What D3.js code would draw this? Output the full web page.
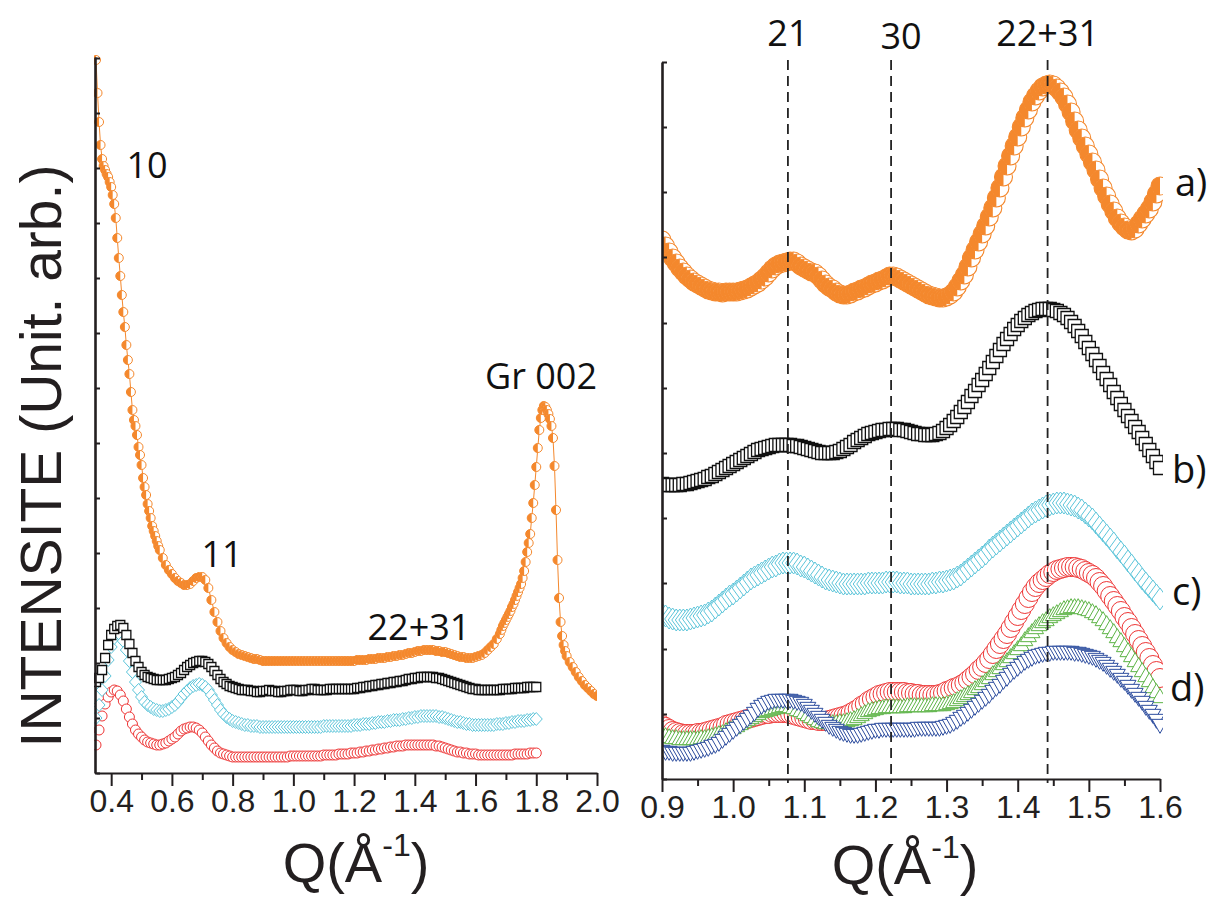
<!DOCTYPE html>
<html><head><meta charset="utf-8">
<script src="https://cdn.jsdelivr.net/npm/d3@7"></script>
<style>body{margin:0;background:#fff}svg{display:block}</style>
</head><body>
<svg id="chart" width="1221" height="900"></svg>
<script>
// ---------- DATA ----------
// Left panel: Q grid (Å^-1) and intensities (arb. units)
const qLeft = [
0.35,0.36,0.37,0.38,0.39,0.40,0.41,0.42,0.43,0.44,
0.45,0.46,0.47,0.48,0.49,0.50,0.51,0.52,0.53,0.54,
0.55,0.56,0.57,0.58,0.59,0.60,0.61,0.62,0.63,0.64,
0.65,0.66,0.67,0.68,0.69,0.70,0.71,0.72,0.73,0.74,
0.75,0.76,0.77,0.78,0.79,0.80,0.81,0.82,0.83,0.84,
0.85,0.86,0.87,0.88,0.89,0.90,0.91,0.92,0.93,0.94,
0.95,0.96,0.97,0.98,0.99,1.00,1.01,1.02,1.03,1.04,
1.05,1.06,1.07,1.08,1.09,1.10,1.11,1.12,1.13,1.14,
1.15,1.16,1.17,1.18,1.19,1.20,1.21,1.22,1.23,1.24,
1.25,1.26,1.27,1.28,1.29,1.30,1.31,1.32,1.33,1.34,
1.35,1.36,1.37,1.38,1.39,1.40,1.41,1.42,1.43,1.44,
1.45,1.46,1.47,1.48,1.49,1.50,1.51,1.52,1.53,1.54,
1.55,1.56,1.57,1.58,1.59,1.60,1.61,1.62,1.63,1.64,
1.65,1.66,1.67,1.68,1.69,1.70,1.71,1.72,1.73,1.74,
1.75,1.76,1.77,1.78,1.79,1.80];

const leftBlack = [
91,95,103,115,128,138,144,147,148,145,
138,129,120,112,106,101,98,96,95,94,
93,93,93,93,94,95,96,98,100,103,
106,108,110,111,112,112,111,109,106,102,
98,94,91,89,87,86,85,84,83,83,
83,82,82,81,81,82,82,83,82,82,
81,81,82,82,83,83,83,82,82,83,
83,84,84,83,83,83,83,84,84,84,
84,84,84,84,84,84,85,85,86,86,
87,87,88,88,89,89,90,90,91,91,
92,92,93,94,94,95,95,96,96,96,
96,96,95,95,94,93,92,91,90,89,
88,87,86,85,84,84,83,83,83,83,
83,83,83,83,84,84,84,84,85,85,
85,85,86,86,86,86];

const leftCyan = [
55,68,83,97,113,126,135,139,138,132,
123,112,101,91,83,76,71,68,66,64,
63,62,62,63,64,66,68,71,75,79,
82,85,87,88,89,88,86,83,78,73,
68,63,59,56,54,52,51,50,49,48,
48,47,47,47,46,46,46,46,46,46,
46,46,46,46,46,46,46,46,46,46,
46,46,46,46,46,47,47,47,47,47,
47,47,47,47,47,48,48,48,49,49,
49,50,50,51,51,51,52,52,53,53,
53,54,54,55,55,56,56,57,57,57,
57,57,57,56,56,55,54,53,52,51,
51,50,49,49,48,48,48,48,48,48,
48,48,49,49,49,50,50,51,51,52,
52,52,53,53,54,54];

const leftRed = [
28,43,57,69,76,81,83,82,78,72,
64,56,49,43,39,36,33,31,30,29,
28,28,29,30,32,34,36,39,42,44,
45,46,46,45,43,40,36,32,28,25,
22,20,19,18,17,16,16,16,16,16,
16,16,16,16,16,16,16,16,16,16,
16,16,16,16,17,17,17,17,17,17,
17,17,17,17,17,18,18,18,18,18,
19,19,19,19,20,20,20,21,21,22,
22,23,23,24,24,25,25,26,26,27,
27,27,28,28,28,28,28,28,28,28,
28,28,27,27,26,25,24,23,22,21,
21,20,20,19,19,19,18,18,18,18,
18,18,18,18,18,18,18,18,19,19,
19,19,19,20,20,20];

// Left panel orange sample (with Gr 002 peak), its own Q sampling
const qLeftOrange = [
0.350,0.355,0.360,0.365,0.370,0.375,0.380,0.385,0.390,0.395,
0.400,0.405,0.410,0.415,0.420,0.425,0.430,0.435,0.440,0.445,
0.450,0.455,0.460,0.465,0.470,0.475,0.480,0.485,0.490,0.495,
0.500,0.505,0.510,0.515,0.520,0.525,0.530,0.535,0.540,0.545,
0.550,0.555,0.560,
0.57,0.58,0.59,0.60,0.61,0.62,0.63,0.64,0.65,0.66,
0.67,0.68,0.69,0.70,0.71,0.72,0.73,0.74,0.75,0.76,
0.77,0.78,0.79,0.80,0.81,0.82,0.83,0.84,0.85,0.86,
0.87,0.88,0.89,0.90,0.91,0.92,0.93,0.94,0.95,0.96,
0.97,0.98,0.99,1.00,1.01,1.02,1.03,1.04,1.05,1.06,
1.07,1.08,1.09,1.10,1.11,1.12,1.13,1.14,1.15,1.16,
1.17,1.18,1.19,1.20,1.21,1.22,1.23,1.24,1.25,1.26,
1.27,1.28,1.29,1.30,1.31,1.32,1.33,1.34,1.35,1.36,
1.37,1.38,1.39,1.40,1.41,1.42,1.43,1.44,1.45,1.46,
1.47,1.48,1.49,1.50,1.51,1.52,1.53,1.54,1.55,1.56,
1.57,1.58,1.59,1.60,1.61,1.62,1.63,1.64,1.65,1.66,
1.67,1.68,
1.685,1.690,1.695,1.700,1.705,1.710,1.715,1.720,1.725,1.730,
1.735,1.740,1.745,1.750,1.755,1.760,1.765,1.770,1.775,1.780,
1.785,1.790,1.795,1.800,1.805,1.810,1.815,1.820,1.825,1.830,
1.835,1.840,1.845,1.850,1.855,1.860,1.865,1.870,1.875,1.880,
1.885,1.890,1.895,1.900,
1.91,1.92,1.93,1.94,1.95,1.96,1.97,1.98,1.99,2.00];

const leftOrange = [
713,680,651,628,614,607,603,599,596,591,
586,578,569,555,535,515,497,478,461,446,
428,413,399,381,363,353,347,338,326,318,
308,295,286,278,269,262,255,247,242,237,
232,227,223,
215,208,203,199,195,192,190,188,188,189,
192,195,196,196,193,185,173,161,151,142,
135,130,126,123,121,119,118,117,116,115,
114,114,113,112,112,112,112,112,112,112,
112,112,112,112,112,112,112,112,112,112,
112,112,112,112,112,112,112,112,112,112,
112,112,112,112,113,113,113,113,114,114,
114,115,115,115,116,116,117,117,118,118,
119,120,120,121,122,122,123,123,123,123,
122,122,121,121,120,119,118,117,116,116,
115,115,115,116,117,118,120,123,126,129,
134,139,
143,147,150,153,156,159,162,166,169,173,
177,181,185,189,195,202,211,221,230,239,
255,270,288,306,325,343,355,363,367,366,
363,359,354,347,335,307,263,213,175,151,
137,128,122,117,
111,106,101,96,92,88,85,82,79,77];

// Right panel: Q grid and intensities (arb. units)
const qRight = [
0.900,0.905,0.910,0.915,0.920,0.925,0.930,0.935,0.940,0.945,
0.950,0.955,0.960,0.965,0.970,0.975,0.980,0.985,0.990,0.995,
1.000,1.005,1.010,1.015,1.020,1.025,1.030,1.035,1.040,1.045,
1.050,1.055,1.060,1.065,1.070,1.075,1.080,1.085,1.090,1.095,
1.100,1.105,1.110,1.115,1.120,1.125,1.130,1.135,1.140,1.145,
1.150,1.155,1.160,1.165,1.170,1.175,1.180,1.185,1.190,1.195,
1.200,1.205,1.210,1.215,1.220,1.225,1.230,1.235,1.240,1.245,
1.250,1.255,1.260,1.265,1.270,1.275,1.280,1.285,1.290,1.295,
1.300,1.305,1.310,1.315,1.320,1.325,1.330,1.335,1.340,1.345,
1.350,1.355,1.360,1.365,1.370,1.375,1.380,1.385,1.390,1.395,
1.400,1.405,1.410,1.415,1.420,1.425,1.430,1.435,1.440,1.445,
1.450,1.455,1.460,1.465,1.470,1.475,1.480,1.485,1.490,1.495,
1.500,1.505,1.510,1.515,1.520,1.525,1.530,1.535,1.540,1.545,
1.550,1.555,1.560,1.565,1.570,1.575,1.580,1.585,1.590,1.595,
1.600];

const rightOrange = [
539,533,527,521,516,511,507,503,500,497,
495,493,491,489,488,487,487,486,487,487,
487,487,488,489,490,492,494,496,499,502,
506,510,513,515,516,517,518,518,516,513,
511,509,507,506,503,499,495,492,490,487,
485,484,484,485,487,488,490,491,493,495,
496,498,499,501,503,503,502,500,498,496,
494,492,490,488,486,484,483,482,481,481,
482,484,487,492,498,504,512,521,529,537,
545,553,562,571,581,591,602,613,623,633,
642,652,661,669,677,683,688,692,694,695,
694,691,687,682,675,667,658,649,641,633,
625,617,609,600,591,583,575,568,561,556,
552,549,548,550,555,560,565,570,577,585,
593];

const rightBlack = [
295,294,294,294,294,294,295,295,296,297,
298,299,300,302,303,305,307,309,311,313,
315,317,319,321,323,325,327,329,330,331,
332,333,334,334,334,334,334,333,333,332,
331,330,329,328,327,326,326,326,326,327,
328,330,332,334,337,339,341,343,345,346,
347,348,349,349,350,350,350,349,349,348,
347,346,345,345,344,344,344,345,346,348,
351,354,358,362,367,372,377,383,388,394,
399,405,411,417,423,429,435,440,445,450,
454,458,461,464,466,468,469,470,470,470,
469,468,466,464,461,457,453,448,443,437,
431,425,419,413,406,400,394,387,381,375,
369,363,358,352,347,341,335,329,323,317,
311];

const rightCyan = [
165,163,161,160,159,159,159,159,160,161,
162,163,164,166,168,171,174,177,180,183,
185,188,191,194,197,200,202,204,206,208,
210,212,213,215,216,216,216,216,215,213,
212,210,208,206,204,202,200,199,198,197,
196,195,195,195,195,195,195,195,196,196,
196,196,196,197,197,197,197,196,196,196,
195,195,195,195,195,195,196,196,197,197,
198,199,200,202,204,207,210,213,216,219,
222,225,229,232,235,238,241,244,247,250,
253,256,259,262,265,267,269,271,273,274,
275,276,276,276,275,274,273,271,269,266,
263,260,256,252,248,244,240,236,231,227,
223,218,214,209,205,200,196,192,188,184,
180];

const rightRed = [
54,52,50,48,47,46,45,45,45,45,
46,46,47,48,49,50,51,52,54,55,
56,57,58,59,60,61,62,63,64,65,
65,66,66,66,66,66,65,64,63,62,
61,60,59,59,58,58,58,59,60,61,
62,63,64,66,68,70,73,75,78,80,
82,84,85,86,87,87,87,87,87,86,
86,85,85,84,84,84,84,84,85,86,
88,89,91,92,94,96,99,102,105,109,
112,116,120,125,130,135,140,145,151,157,
163,169,175,181,187,192,196,199,202,205,
207,209,210,211,212,212,212,211,210,208,
206,204,201,197,193,188,183,178,173,168,
162,157,151,145,139,133,127,121,114,108,
101];

const rightGreen = [
43,42,41,40,40,39,39,39,39,39,
39,40,40,41,42,43,44,45,47,49,
50,52,54,56,58,60,62,64,66,67,
68,69,70,71,72,72,71,70,68,67,
65,63,61,59,57,56,55,55,55,55,
56,56,57,58,59,61,63,65,67,68,
69,70,70,71,71,71,71,71,71,72,
72,72,72,72,72,72,73,73,73,73,
74,75,76,78,80,82,84,86,89,91,
94,97,100,104,107,110,114,117,121,125,
129,133,138,142,146,150,153,156,158,161,
163,165,167,169,170,171,171,171,170,169,
168,166,164,161,158,154,150,146,141,137,
132,127,122,117,112,107,102,97,91,86,
81];

const rightBlue = [
29,28,28,27,27,27,27,27,27,28,
29,30,31,32,34,35,37,40,43,46,
49,52,55,58,61,64,67,71,74,76,
78,79,80,80,80,80,80,79,78,77,
75,72,69,66,63,60,57,54,52,50,
48,47,46,45,45,45,46,47,48,49,
50,50,51,51,51,51,51,51,51,51,
51,51,52,52,52,52,52,52,52,53,
54,55,57,59,62,64,67,70,73,76,
79,82,85,89,92,95,99,102,106,109,
112,115,118,120,122,124,125,126,127,127,
128,128,128,128,128,128,127,127,126,125,
124,123,121,119,117,114,111,108,105,101,
98,94,90,86,82,78,73,69,65,60,
55];

// Axis ticks
const leftMajorTicks = [0.4,0.6,0.8,1.0,1.2,1.4,1.6,1.8,2.0];
const leftMinorTicks = [0.5,0.7,0.9,1.1,1.3,1.5,1.7,1.9];
const rightMajorTicks = [0.9,1.0,1.1,1.2,1.3,1.4,1.5,1.6];
const rightMinorTicks = [0.95,1.05,1.15,1.25,1.35,1.45,1.55];
const leftYTicks = [0,55,110,165,220,275,330,385,440,495,550,605,660,715];
const rightYTicks = [0,65,130,196,261,326,391,456,522,587,652,717];

// Reflection positions (Q) and labels
const reflQ = [1.077,1.222,1.442];
const reflLabels = ["21","30","22+31"];
const leftPeakLabels = ["10","11","22+31","Gr 002"];
const sampleLabels = ["a)","b)","c)","d)"];
const xTitle = "Q(Å";
const yTitle = "INTENSITE (Unit. arb.)";

// ---------- DRAW ----------
const C = {orange:"#F4882D", black:"#111111", cyan:"#5CC5DA", red:"#EE3535", green:"#5DB446", blue:"#2C4C9E"};
const axisFont = "'Liberation Sans', Arial, sans-serif";
const annFont = "'Open Sans','Noto Sans',sans-serif";
const svg = d3.select("#chart");

const xL = d3.scaleLinear().domain([0.35,2.0]).range([96,597]);
const yL = d3.scaleLinear().domain([0,716]).range([773,57]);
const xR = d3.scaleLinear().domain([0.9,1.6]).range([662,1160]);
const yR = d3.scaleLinear().domain([0,717]).range([779,62]);

const defs = svg.append("defs");
defs.append("clipPath").attr("id","clipL").append("rect").attr("x",94).attr("y",0).attr("width",503).attr("height",773);
defs.append("clipPath").attr("id","clipR").append("rect").attr("x",663).attr("y",0).attr("width",500).attr("height",779);

const shapes = {
  circle: r => `M${r},0A${r},${r} 0 1,1 ${-r},0A${r},${r} 0 1,1 ${r},0Z`,
  square: s => `M${-s/2},${-s/2}h${s}v${s}h${-s}Z`,
  diamond: ([hw,hh]) => `M0,${-hh}L${hw},0L0,${hh}L${-hw},0Z`,
  triUp: ([w,h]) => `M0,${-2*h/3}L${w},${h/3}L${-w},${h/3}Z`,
  triDown: ([w,h]) => `M0,${2*h/3}L${w},${-h/3}L${-w},${-h/3}Z`
};

function drawSeries(g, qs, vals, x, y, shape, size, color, sw){
  const pts = qs.map((q,i)=>[x(q), y(vals[i])]);
  g.append("g").selectAll("path").data(pts).join("path")
    .attr("transform", d=>`translate(${d[0]},${d[1]})`)
    .attr("d", shapes[shape](size))
    .attr("fill","#fff").attr("stroke",color).attr("stroke-width",sw);
}
function drawHalf(g, qs, vals, x, y, r, color, sw){
  const pts = qs.map((q,i)=>[x(q), y(vals[i])]);
  const m = g.append("g").selectAll("g").data(pts).join("g")
    .attr("transform", d=>`translate(${d[0]},${d[1]})`);
  m.append("path").attr("d", shapes.circle(r)).attr("fill","#fff").attr("stroke",color).attr("stroke-width",sw);
  m.append("path").attr("d", `M0,${-r}A${r},${r} 0 0,0 0,${r}Z`).attr("fill",color);
}

// Left panel series
const gL = svg.append("g").attr("clip-path","url(#clipL)");
gL.append("path").datum(qLeftOrange.map((q,i)=>[q,leftOrange[i]]))
  .attr("d", d3.line().x(d=>xL(d[0])).y(d=>yL(d[1])))
  .attr("fill","none").attr("stroke",C.orange).attr("stroke-width",1);
drawHalf(gL, qLeftOrange, leftOrange, xL, yL, 4.5, C.orange, 1);
drawSeries(gL, qLeft, leftRed, xL, yL, "circle", 5, C.red, 1);
drawSeries(gL, qLeft, leftCyan, xL, yL, "diamond", [6,6.5], C.cyan, 1);
drawSeries(gL, qLeft, leftBlack, xL, yL, "square", 9, C.black, 1.3);

// Right panel series
const gR = svg.append("g").attr("clip-path","url(#clipR)");
drawHalf(gR, qRight, rightOrange, xR, yR, 9, C.orange, 1.1);
drawSeries(gR, qRight, rightBlack, xR, yR, "square", 13, C.black, 1.3);
drawSeries(gR, qRight, rightCyan, xR, yR, "diamond", [8,11], C.cyan, 1);
drawSeries(gR, qRight, rightRed, xR, yR, "circle", 9.5, C.red, 1);
drawSeries(gR, qRight, rightGreen, xR, yR, "triUp", [8,14], C.green, 1);
drawSeries(gR, qRight, rightBlue, xR, yR, "triDown", [8,14], C.blue, 1);

// Dashed reflection lines
svg.append("g").selectAll("line").data(reflQ).join("line")
  .attr("x1", d=>xR(d)).attr("x2", d=>xR(d))
  .attr("y1", 60).attr("y2", 783)
  .attr("stroke","#222").attr("stroke-width",1.8).attr("stroke-dasharray","10,6");

// Axes
function styleAxis(g, w){
  g.select(".domain").attr("stroke","#231f20").attr("stroke-width",w);
  g.selectAll(".tick line").attr("stroke","#231f20").attr("stroke-width",2);
  g.selectAll(".tick text").attr("fill","#231f20").style("font-family",axisFont).style("font-size","32px");
}
const axL = svg.append("g").attr("transform","translate(0,773)")
  .call(d3.axisBottom(xL).tickValues(leftMajorTicks).tickSize(13).tickSizeOuter(0).tickPadding(3).tickFormat(d3.format(".1f")));
styleAxis(axL, 2.2);
const axLm = svg.append("g").attr("transform","translate(0,773)")
  .call(d3.axisBottom(xL).tickValues(leftMinorTicks).tickSize(7).tickFormat(""));
axLm.select(".domain").remove(); styleAxis(axLm,2);
const ayL = svg.append("g").attr("transform","translate(95,0)")
  .call(d3.axisLeft(yL).tickValues(leftYTicks).tickSize(-5).tickSizeOuter(0).tickFormat(""));
styleAxis(ayL, 2.6);

const axR = svg.append("g").attr("transform","translate(0,779)")
  .call(d3.axisBottom(xR).tickValues(rightMajorTicks).tickSize(13).tickSizeOuter(0).tickPadding(3).tickFormat(d3.format(".1f")));
styleAxis(axR, 2.2);
const axRm = svg.append("g").attr("transform","translate(0,779)")
  .call(d3.axisBottom(xR).tickValues(rightMinorTicks).tickSize(7).tickFormat(""));
axRm.select(".domain").remove(); styleAxis(axRm,2);
const ayR = svg.append("g").attr("transform","translate(662,0)")
  .call(d3.axisLeft(yR).tickValues(rightYTicks).tickSize(-5).tickSizeOuter(0).tickFormat(""));
styleAxis(ayR, 2.6);

// Axis titles
function qTitle(cx, by){
  const t = svg.append("text").attr("x",cx).attr("y",by).attr("text-anchor","middle")
    .style("font-family",axisFont).style("font-size","56px").attr("fill","#231f20");
  t.append("tspan").text(xTitle);
  t.append("tspan").attr("dy",-26).style("font-size","32px").text("-1");
  t.append("tspan").attr("dy",26).text(")");
}
qTitle(356, 882);
qTitle(905, 884);
svg.append("text").attr("transform","translate(61,456) rotate(-90)").attr("text-anchor","middle")
  .style("font-family",axisFont).style("font-size","57px").attr("fill","#231f20").text(yTitle);

// Annotations
const ann = (txt,x,y,anchor="middle",fs=36)=>svg.append("text").attr("x",x).attr("y",y).attr("text-anchor",anchor)
  .style("font-family",annFont).style("font-size",fs+"px").attr("fill","#111").text(txt);
ann(leftPeakLabels[0], 147, 178);
ann(leftPeakLabels[1], 222, 567);
ann(leftPeakLabels[2], 419, 640);
ann(leftPeakLabels[3], 541, 389);
ann(reflLabels[0], xR(reflQ[0]), 46);
ann(reflLabels[1], xR(reflQ[1])+10, 49);
ann(reflLabels[2], xR(reflQ[2]), 46);
ann(sampleLabels[0], 1175, 196, "start", 38);
ann(sampleLabels[1], 1172, 483, "start", 38);
ann(sampleLabels[2], 1172, 605, "start", 38);
ann(sampleLabels[3], 1170, 701, "start", 38);
</script>
</body></html>
